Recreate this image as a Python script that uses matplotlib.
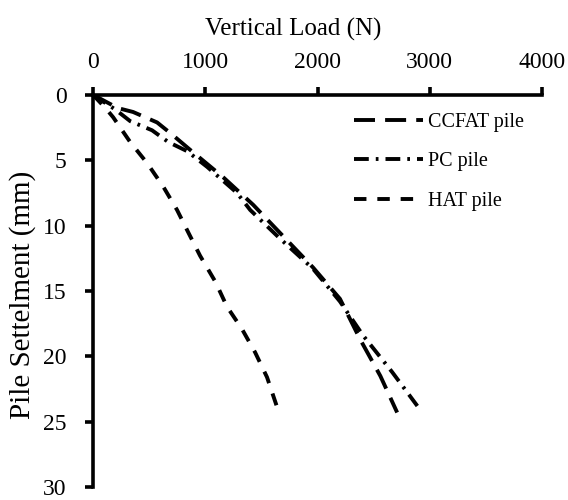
import matplotlib
matplotlib.use("Agg")
import matplotlib.pyplot as plt

plt.rcParams['font.family'] = ['Liberation Serif', 'DejaVu Serif']

# Load (N) vs settlement (mm) for each pile type
ccfat_load = [0, 45, 220, 356, 570, 700, 865, 1160, 1426, 1693, 1960, 2200, 2380, 2560, 2710]
ccfat_settle = [0, 0.2, 1.0, 1.3, 2.1, 3.0, 4.2, 6.3, 8.4, 10.8, 13.2, 15.6, 18.7, 21.5, 24.3]

pc_load = [0, 196, 330, 525, 670, 838, 1016, 1150, 1283, 1400, 1667, 1960, 2200, 2406, 2665, 2890]
pc_settle = [0, 1.1, 2.0, 2.7, 3.6, 4.3, 5.5, 6.5, 7.5, 8.8, 11.0, 13.3, 15.8, 18.4, 21.2, 23.8]

hat_load = [0, 110, 178, 330, 480, 624, 748, 847, 953, 1090, 1193, 1326, 1444, 1550, 1640]
hat_settle = [0, 1.0, 1.7, 3.6, 5.2, 7.0, 8.8, 10.5, 12.3, 14.3, 16.2, 17.9, 19.7, 21.6, 23.9]

x_ticks = [0, 1000, 2000, 3000, 4000]
y_ticks = [0, 5, 10, 15, 20, 25, 30]

fig = plt.figure(figsize=(5.68, 5.0), dpi=100)
ax = fig.add_axes([0.164, 0.026, 0.79, 0.784])

lw = 2.8
ax.plot(ccfat_load, ccfat_settle, color='black', lw=lw, dashes=(5.4, 2.6),
        dash_capstyle='butt', label='CCFAT pile')
ax.plot(pc_load, pc_settle, color='black', lw=lw, dashes=(3.8, 1.8, 0.7, 1.8),
        dash_capstyle='butt', label='PC pile')
ax.plot(hat_load, hat_settle, color='black', lw=lw, dashes=(3.2, 2.8),
        dash_capstyle='butt', label='HAT pile')

ax.set_xlim(0, 4000)
ax.set_ylim(30, 0)
ax.set_xticks(x_ticks)
ax.set_yticks(y_ticks)
ax.xaxis.tick_top()
ax.xaxis.set_label_position('top')
ax.set_xlabel('Vertical Load (N)', fontsize=18)
ax.set_ylabel('Pile Settelment (mm)', fontsize=21)
ax.xaxis.set_label_coords(0.445, 1.152)
ax.yaxis.set_label_coords(-0.128, 0.49)

for side in ('right', 'bottom'):
    ax.spines[side].set_visible(False)
for side in ('top', 'left'):
    ax.spines[side].set_linewidth(2.6)
ax.tick_params(axis='both', which='major', direction='out', length=6, width=2.6,
               labelsize=17)
ax.tick_params(axis='x', top=True, bottom=False, pad=10)
ax.tick_params(axis='y', pad=13)

leg = ax.legend(loc='upper right', bbox_to_anchor=(1.0, 1.0), frameon=False,
                fontsize=14.5, handlelength=3.4, handletextpad=0.25,
                labelspacing=1.0)

fig.savefig('out.png', dpi=100)
